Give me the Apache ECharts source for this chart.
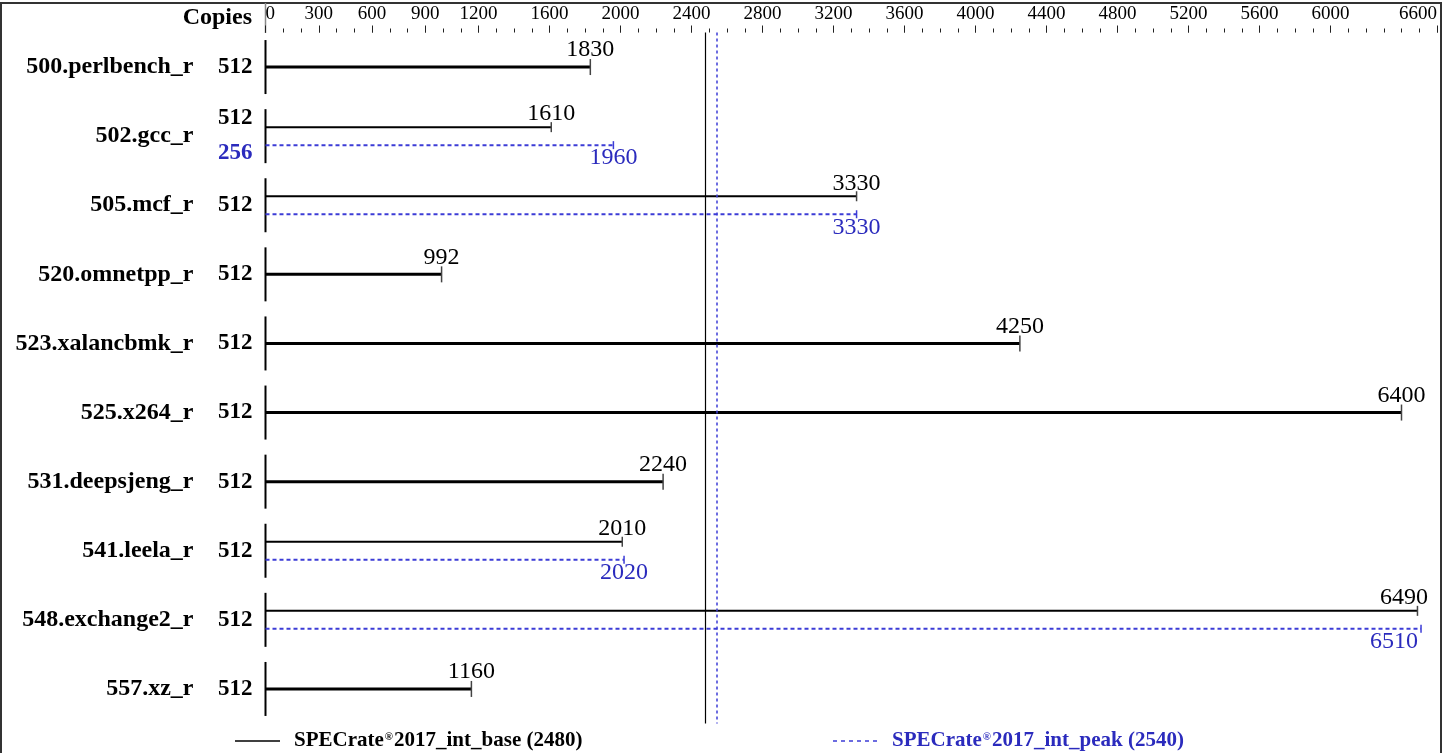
<!DOCTYPE html>
<html>
<head>
<meta charset="utf-8">
<script src="https://cdn.jsdelivr.net/npm/echarts@6/dist/echarts.min.js"></script>
<style>
	html, body { margin: 0; padding: 0; background: #fff; }
	#chart { width: 1449px; height: 753px; }
</style>
</head>
<body>
<div id="chart"></div>
<script>
// benchmark rows, top to bottom
var benchmarks = ['500.perlbench_r', '502.gcc_r', '505.mcf_r', '520.omnetpp_r', '523.xalancbmk_r',
	'525.x264_r', '531.deepsjeng_r', '541.leela_r', '548.exchange2_r', '557.xz_r'];
var baseCopies = [512, 512, 512, 512, 512, 512, 512, 512, 512, 512];
var peakCopies = [null, 256, 512, null, null, null, null, 512, 512, null];
var baseScores = [1830, 1610, 3330, 992, 4250, 6400, 2240, 2010, 6490, 1160];
var peakScores = [null, 1960, 3330, null, null, null, null, 2020, 6510, null];
var baseOverall = 2480;
var peakOverall = 2540;
var majorTicks = [0, 300, 600, 900, 1200, 1600, 2000, 2400, 2800, 3200, 3600, 4000, 4400, 4800, 5200, 5600, 6000, 6600];
var axisMax = 6600;

var SERIF = "'Liberation Serif', 'DejaVu Serif', serif";
var BLUE_TXT = '#2b2bbd';
var BLUE_LN = '#3c3cd6';

var minorTicks = [];
for (var t = 0; t <= axisMax; t += 100) minorTicks.push(t);

function renderRow(params, api) {
	var i = api.value(0);
	var c = api.coord([0, i]);
	var x0 = c[0], yc = c[1];
	var xRight = api.coord([axisMax, i])[0] - 33;   // keep labels inside the frame
	var base = baseScores[i], peak = peakScores[i];
	var two = peak != null;
	var yb = two ? yc - 9 : yc;
	var yp = yc + 9;
	var xb = api.coord([base, i])[0];
	var kids = [];

	// row separator
	kids.push({ type: 'line', shape: { x1: x0, y1: yc - 27, x2: x0, y2: yc + 27 }, style: { stroke: '#000', lineWidth: 2 } });

	// base
	kids.push({ type: 'line', shape: { x1: x0, y1: yb, x2: xb, y2: yb }, style: { stroke: '#000', lineWidth: two ? 2 : 3 } });
	var h = two ? 5 : 8;
	kids.push({ type: 'line', shape: { x1: xb, y1: yb - h, x2: xb, y2: yb + h }, style: { stroke: '#444', lineWidth: 1.5 } });
	kids.push({ type: 'text', x: Math.min(xb, xRight), y: yb - (two ? 13 : 17), style: { text: String(base), textAlign: 'center', textVerticalAlign: 'middle', font: '24px ' + SERIF, fill: '#000' } });

	if (two) {
		var xp = api.coord([peak, i])[0];
		kids.push({ type: 'line', shape: { x1: x0, y1: yp, x2: xp, y2: yp }, style: { stroke: BLUE_LN, lineWidth: 2, lineDash: [4, 3] } });
		kids.push({ type: 'line', shape: { x1: xp, y1: yp - 4, x2: xp, y2: yp + 4 }, style: { stroke: BLUE_LN, lineWidth: 1.5 } });
		kids.push({ type: 'text', x: Math.min(xp, xRight - 10), y: yp + 13, style: { text: String(peak), textAlign: 'center', textVerticalAlign: 'middle', font: '24px ' + SERIF, fill: BLUE_TXT } });
	}

	// copies
	if (two && peakCopies[i] !== baseCopies[i]) {
		kids.push({ type: 'text', x: x0 - 13, y: yc - 18, style: { text: String(baseCopies[i]), textAlign: 'right', textVerticalAlign: 'middle', font: 'bold 23px ' + SERIF, fill: '#000' } });
		kids.push({ type: 'text', x: x0 - 13, y: yc + 17, style: { text: String(peakCopies[i]), textAlign: 'right', textVerticalAlign: 'middle', font: 'bold 23px ' + SERIF, fill: BLUE_TXT } });
	} else {
		kids.push({ type: 'text', x: x0 - 13, y: yc, style: { text: String(baseCopies[i]), textAlign: 'right', textVerticalAlign: 'middle', font: 'bold 23px ' + SERIF, fill: '#000' } });
	}

	// benchmark name
	kids.push({ type: 'text', x: x0 - 72, y: yc, style: { text: benchmarks[i], textAlign: 'right', textVerticalAlign: 'middle', font: 'bold 24px ' + SERIF, fill: '#000' } });

	return { type: 'group', children: kids };
}

var chart = echarts.init(document.getElementById('chart'));

var legendFont = 'bold 21px ' + SERIF;
var option = {
	animation: false,
	backgroundColor: '#fff',
	grid: { left: 265.5, right: 12, top: 32.5, bottom: 29.5 },
	xAxis: [{
		type: 'value', position: 'top', min: 0, max: axisMax,
		axisLine: { show: false },
		splitLine: { show: false },
		axisTick: { show: true, customValues: majorTicks, length: 7, lineStyle: { color: '#222', width: 1 } },
		axisLabel: { show: true, customValues: majorTicks, margin: 9, fontFamily: SERIF, fontSize: 19, color: '#000',
			alignMinLabel: 'left', alignMaxLabel: 'right',
			formatter: function (v) { return String(v); } }
	}, {
		type: 'value', position: 'top', min: 0, max: axisMax,
		axisLine: { show: false },
		splitLine: { show: false },
		axisTick: { show: true, customValues: minorTicks, length: 4, lineStyle: { color: '#222', width: 1 } },
		axisLabel: { show: false }
	}],
	yAxis: {
		type: 'category', data: benchmarks, inverse: true,
		axisLine: { show: false }, axisTick: { show: false }, axisLabel: { show: false }, splitLine: { show: false }
	},
	series: [{
		type: 'custom',
		renderItem: renderRow,
		data: benchmarks.map(function (b, i) { return [i]; }),
		encode: { y: 0 },
		markLine: {
			silent: true, symbol: 'none', label: { show: false },
			data: [
				{ xAxis: baseOverall, lineStyle: { color: '#000', width: 1.2, type: 'solid' } },
				{ xAxis: peakOverall, lineStyle: { color: BLUE_LN, width: 1.5, type: [3, 3] } }
			]
		}
	}],
	graphic: [
		{ type: 'rect', shape: { x: 1, y: 3, width: 1440, height: 760 }, style: { fill: 'none', stroke: '#333', lineWidth: 2 }, silent: true },
		{ type: 'line', shape: { x1: 265.5, y1: 3, x2: 265.5, y2: 33 }, style: { stroke: '#888', lineWidth: 1.5 } },
		{ type: 'text', x: 252, y: 18, style: { text: 'Copies', textAlign: 'right', textVerticalAlign: 'middle', font: 'bold 24px ' + SERIF, fill: '#000' } },
		{ type: 'line', shape: { x1: 235, y1: 741, x2: 280, y2: 741 }, style: { stroke: '#000', lineWidth: 1.5 } },
		{ type: 'text', x: 294, y: 741, style: {
			text: '{b|SPECrate}{s|®}{b|2017_int_base (' + baseOverall + ')}', textVerticalAlign: 'middle',
			rich: { b: { font: legendFont, fill: '#000' }, s: { font: 'bold 11px ' + SERIF, fill: '#000', padding: [0, 1, 8, 1] } }
		} },
		{ type: 'line', shape: { x1: 833, y1: 741, x2: 878, y2: 741 }, style: { stroke: BLUE_LN, lineWidth: 1.5, lineDash: [4, 4] } },
		{ type: 'text', x: 892, y: 741, style: {
			text: '{b|SPECrate}{s|®}{b|2017_int_peak (' + peakOverall + ')}', textVerticalAlign: 'middle',
			rich: { b: { font: legendFont, fill: BLUE_TXT }, s: { font: 'bold 11px ' + SERIF, fill: BLUE_TXT, padding: [0, 1, 8, 1] } }
		} }
	]
};
chart.setOption(option);
</script>
</body>
</html>
